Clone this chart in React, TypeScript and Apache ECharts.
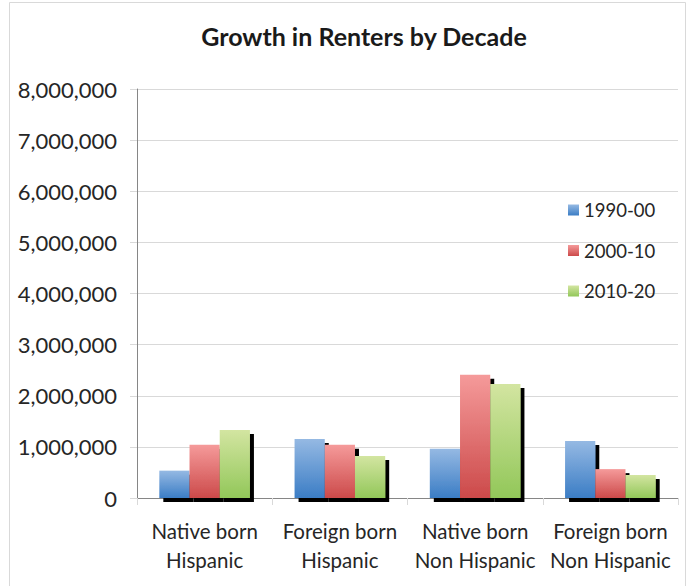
import React, { useEffect, useRef } from "react";
import * as echarts from "echarts";

const categories = ["Native born\nHispanic", "Foreign born\nHispanic", "Native born\nNon Hispanic", "Foreign born\nNon Hispanic"];
const seriesNames = ["1990-00", "2000-10", "2010-20"];
const values1990 = [535000, 1155000, 965000, 1115000];
const values2000 = [1040000, 1040000, 2410000, 565000];
const values2010 = [1330000, 820000, 2230000, 450000];
const gradients = [
  ["#95b9e3", "#3b7dc5"],
  ["#f59a9a", "#cc4a4a"],
  ["#d3e5a1", "#92c759"],
];

const FONT = "Lato";

export default function App() {
  const ref = useRef<HTMLDivElement>(null);
  useEffect(() => {
    if (!ref.current) return;
    const chart = echarts.init(ref.current, null, { renderer: "svg" });
    const data = [values1990, values2000, values2010];
    chart.setOption({
      animation: false,
      backgroundColor: "#ffffff",
      title: {
        text: "Growth in Renters by Decade",
        left: 359,
        top: 18,
        textAlign: "center",
        textStyle: { fontFamily: FONT, fontSize: 25, fontWeight: "bold", color: "#1a1a1a" },
      },
      graphic: [
        {
          type: "rect",
          shape: { x: 9.5, y: 2.5, width: 676, height: 600 },
          style: { fill: "none", stroke: "#d9d9d9", lineWidth: 1 },
          silent: true,
          z: -1,
        },
      ],
      legend: {
        orient: "vertical",
        left: 563,
        top: 195,
        itemWidth: 11,
        itemHeight: 11,
        itemGap: 20.5,
        icon: "rect",
        data: seriesNames,
        textStyle: { fontFamily: FONT, fontSize: 18.5, color: "#262626", lineHeight: 20 },
        itemStyle: { shadowColor: "transparent", shadowOffsetX: 0, shadowOffsetY: 0, shadowBlur: 0 },
      },
      grid: { left: 137, right: 10, top: 89, bottom: 88, containLabel: false },
      xAxis: {
        type: "category",
        data: categories,
        axisLine: { lineStyle: { color: "#868686", width: 1 } },
        axisTick: { show: true, length: 7, lineStyle: { color: "#d9d9d9" } },
        axisLabel: { interval: 0, fontFamily: FONT, fontSize: 20.5, color: "#262626", lineHeight: 29, margin: 18 },
      },
      yAxis: {
        type: "value",
        min: 0,
        max: 8000000,
        interval: 1000000,
        axisLine: { show: true, lineStyle: { color: "#868686", width: 1 } },
        axisTick: { show: true, length: 7, lineStyle: { color: "#d9d9d9" } },
        splitLine: { show: true, lineStyle: { color: "#d9d9d9", width: 1 } },
        axisLabel: {
          fontFamily: FONT,
          fontSize: 22,
          color: "#262626",
          margin: 20,
          formatter: (v: number) => v.toLocaleString("en-US"),
        },
      },
      series: seriesNames.map((name, i) => ({
        name,
        type: "bar",
        data: data[i],
        barGap: "0%",
        barCategoryGap: "33%",
        itemStyle: {
          color: new echarts.graphic.LinearGradient(0, 0, 0, 1, [
            { offset: 0, color: gradients[i][0] },
            { offset: 1, color: gradients[i][1] },
          ]),
          shadowColor: "#000000",
          shadowOffsetX: 4,
          shadowOffsetY: 4,
          shadowBlur: 0,
        },
        emphasis: { disabled: true },
      })),
    });
    return () => chart.dispose();
  }, []);
  return <div ref={ref} style={{ position: "fixed", left: 0, top: 0, width: 688, height: 586 }} />;
}
